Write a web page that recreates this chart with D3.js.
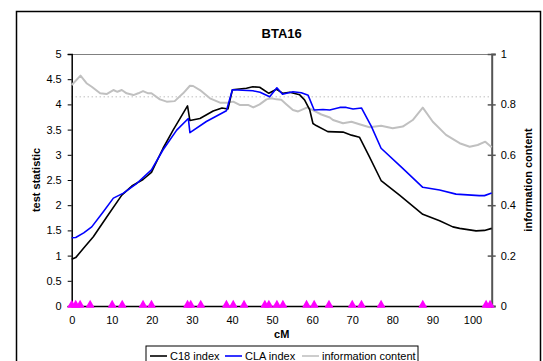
<!DOCTYPE html>
<html><head><meta charset="utf-8">
<script src="https://cdn.jsdelivr.net/npm/d3@7"></script>
<style>body{margin:0;background:#fff}svg{display:block;font-family:"Liberation Sans",Arial,sans-serif}</style>
</head><body>
<svg id="c" width="543" height="361"></svg>
<script>
const title = "BTA16";
const xTicks = [0,10,20,30,40,50,60,70,80,90,100];
const yLeftTicks = [0,0.5,1,1.5,2,2.5,3,3.5,4,4.5,5];
const yRightTicks = [0,0.2,0.4,0.6,0.8,1];
const threshold = 4.15;

const c18 = [[0,0.93],[1,0.96],[3,1.15],[5.4,1.375],[8.7,1.76],[12.5,2.2],[15,2.38],[17.8,2.51],[19.9,2.65],[22.8,3.13],[25.3,3.49],[28.9,3.97],[29.5,3.68],[32,3.72],[35.3,3.87],[37.5,3.93],[39,3.91],[40.1,4.29],[43.6,4.32],[45.2,4.35],[46.9,4.34],[49.2,4.22],[51.1,4.3],[52.7,4.22],[54.4,4.24],[56.9,4.19],[58.1,4.09],[59.4,3.89],[60.2,3.62],[61,3.58],[63.9,3.46],[67.7,3.45],[69.8,3.39],[71.8,3.35],[74.3,2.96],[77.2,2.49],[81.8,2.2],[87.6,1.82],[91.8,1.69],[95.1,1.57],[96.8,1.54],[100.9,1.49],[103,1.5],[104.8,1.54]];

const cla = [[0,1.355],[1,1.36],[3,1.45],[5,1.57],[7.7,1.85],[10.4,2.14],[12.9,2.24],[16.2,2.43],[19.9,2.7],[22.8,3.1],[26.2,3.49],[29.1,3.72],[29.5,3.44],[33.6,3.66],[38.6,3.875],[40.1,4.29],[45.2,4.27],[47,4.24],[49.4,4.15],[51.2,4.33],[52.6,4.2],[55.2,4.25],[57.3,4.23],[59,4.18],[60.5,3.89],[62.7,3.9],[64.4,3.89],[66.9,3.94],[68.5,3.94],[70.2,3.91],[72.3,3.93],[74.8,3.56],[77.2,3.13],[82.6,2.73],[87.6,2.355],[91.8,2.3],[95.9,2.22],[101.7,2.19],[103,2.19],[104.8,2.24]];

const info = [[0,0.877],[2.2,0.914],[3.7,0.884],[5,0.87],[7.1,0.844],[8.7,0.841],[10.4,0.857],[11.4,0.85],[12.5,0.857],[13.7,0.844],[15.4,0.837],[16.6,0.844],[17.8,0.853],[19.1,0.844],[19.9,0.844],[22,0.82],[23.7,0.811],[25.7,0.813],[27.8,0.844],[29.5,0.874],[30.3,0.873],[32,0.857],[34.5,0.824],[37,0.807],[39,0.807],[40.3,0.811],[41.9,0.798],[44,0.798],[45.3,0.788],[46.9,0.8],[48.6,0.82],[49.8,0.824],[51.1,0.82],[52.3,0.818],[53.6,0.8],[55.2,0.778],[56.5,0.772],[58.8,0.788],[60.4,0.775],[62.3,0.76],[64.4,0.748],[65.2,0.738],[67.7,0.725],[69.8,0.731],[71.8,0.721],[74.3,0.709],[77.2,0.715],[80.1,0.705],[82.6,0.712],[85.1,0.738],[87.6,0.787],[90.1,0.731],[93.4,0.679],[96.8,0.646],[99.3,0.632],[101.3,0.639],[103.2,0.652],[104.8,0.63]];

const markers = [0,1.0,2.1,4.6,10.1,12.6,17.8,19.9,28.9,29.7,32.2,38.6,40.3,43.0,48.2,49.2,51.2,52.7,58.6,60.5,64.2,70.0,72.3,77.2,87.6,103.4,104.4];

const legendItems = [["C18 index","#000"],["CLA index","#0000ff"],["information content","#c0c0c0"]];

const svg = d3.select("#c");
const L = 71.7, R = 491.7, T = 54, B = 306;
const x = d3.scaleLinear().domain([0,104.8]).range([L,R]);
const y = d3.scaleLinear().domain([0,5]).range([B,T]);
const y2 = d3.scaleLinear().domain([0,1]).range([B,T]);

// outer border
svg.append("rect").attr("x",16.5).attr("y",11.5).attr("width",524).attr("height",370)
  .attr("fill","none").attr("stroke","#000").attr("stroke-width",1.5);

svg.append("text").attr("x",(L+R)/2).attr("y",38).attr("text-anchor","middle")
  .attr("font-weight","bold").attr("font-size",13).text(title);

// top border of plot
svg.append("line").attr("x1",L).attr("x2",R).attr("y1",T+0.5).attr("y2",T+0.5).attr("stroke","#808080").attr("stroke-width",1);

// threshold
svg.append("line").attr("x1",L).attr("x2",R).attr("y1",y(threshold)).attr("y2",y(threshold))
  .attr("stroke","#a0a0a0").attr("stroke-width",1).attr("stroke-dasharray","1,3");

// left axis
const gl = svg.append("g").attr("transform",`translate(${L},0)`)
  .call(d3.axisLeft(y).tickValues(yLeftTicks).tickSize(4).tickPadding(6).tickFormat(d3.format("")));
gl.select(".domain").attr("stroke","#000").attr("stroke-width",1.5);
gl.selectAll(".tick text").attr("font-size",11).attr("font-family","Liberation Sans, Arial, sans-serif").attr("fill","#000");

// right axis
const gr = svg.append("g").attr("transform",`translate(${R},0)`)
  .call(d3.axisRight(y2).tickValues(yRightTicks).tickSize(4).tickPadding(5).tickFormat(d3.format("")));
gr.select(".domain").attr("stroke","#555").attr("stroke-width",2);
gr.selectAll(".tick line").attr("x1",-4).attr("stroke","#555").attr("stroke-width",1.5);
gr.selectAll(".tick text").attr("font-size",11).attr("font-family","Liberation Sans, Arial, sans-serif").attr("fill","#000");

// bottom axis
const gb = svg.append("g").attr("transform",`translate(0,${B})`)
  .call(d3.axisBottom(x).tickValues(xTicks).tickSize(0).tickPadding(10).tickFormat(d3.format("")));
gb.select(".domain").attr("stroke","#000").attr("stroke-width",1.5);
gb.selectAll(".tick text").attr("font-size",11).attr("font-family","Liberation Sans, Arial, sans-serif").attr("fill","#000");

svg.append("text").attr("x",(L+R)/2).attr("y",338).attr("text-anchor","middle")
  .attr("font-weight","bold").attr("font-size",11).text("cM");
svg.append("text").attr("transform",`translate(40,${(T+B)/2}) rotate(-90)`).attr("text-anchor","middle")
  .attr("font-weight","bold").attr("font-size",11).text("test statistic");
svg.append("text").attr("transform",`translate(532,${(T+B)/2}) rotate(-90)`).attr("text-anchor","middle")
  .attr("font-weight","bold").attr("font-size",11).text("information content");

const line = d3.line().x(d=>x(d[0])).y(d=>y(d[1]));
const line2 = d3.line().x(d=>x(d[0])).y(d=>y2(d[1]));

svg.append("path").datum(info).attr("d",line2).attr("fill","none").attr("stroke","#c0c0c0").attr("stroke-width",2).attr("stroke-linejoin","round");
svg.append("path").datum(c18).attr("d",line).attr("fill","none").attr("stroke","#000").attr("stroke-width",1.6).attr("stroke-linejoin","round");
svg.append("path").datum(cla).attr("d",line).attr("fill","none").attr("stroke","#0000ff").attr("stroke-width",1.6).attr("stroke-linejoin","round");

svg.append("g").selectAll("path").data(markers).join("path")
  .attr("transform",d=>`translate(${x(d)},${B-1})`)
  .attr("d",d3.symbol(d3.symbolTriangle,36)).attr("fill","#ff00ff");

// legend
const lg = svg.append("g");
lg.append("rect").attr("x",146).attr("y",346).attr("width",272).attr("height",22)
  .attr("fill","#fff").attr("stroke","#000").attr("stroke-width",1);
const lx = [150,225,302];
legendItems.forEach((it,i)=>{
  lg.append("line").attr("x1",lx[i]).attr("x2",lx[i]+17).attr("y1",356).attr("y2",356)
    .attr("stroke",it[1]).attr("stroke-width",1.6);
  lg.append("text").attr("x",lx[i]+20).attr("y",360).attr("font-size",11).text(it[0]);
});
</script>
</body></html>
